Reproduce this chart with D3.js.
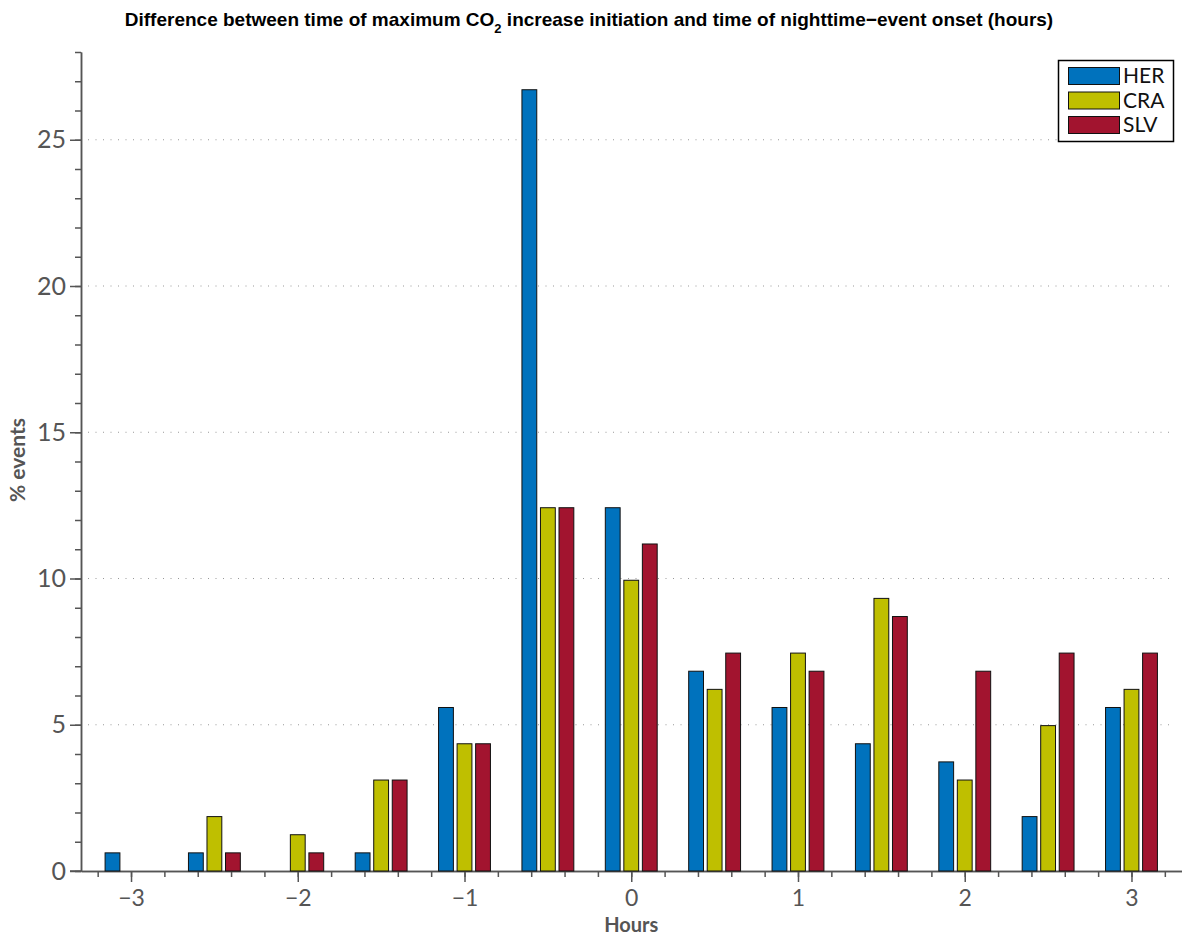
<!DOCTYPE html>
<html>
<head>
<meta charset="utf-8">
<script src="https://cdn.jsdelivr.net/npm/d3@7"></script>
<style>
  html, body { margin: 0; padding: 0; background: #fff; }
  svg { display: block; }
  .tick text { font-family: Lato, "Open Sans", sans-serif; fill: #555; }
</style>
</head>
<body>
<svg id="chart" width="1182" height="937"></svg>
<script>
// Time-offset bins (hours) and the share of events in each bin, per site
const bins = [-3, -2.5, -2, -1.5, -1, -0.5, 0, 0.5, 1, 1.5, 2, 2.5, 3];
const series = ["HER", "CRA", "SLV"];
const herValues = [0.62, 0.62, 0, 0.62, 5.59, 26.71, 12.42, 6.83, 5.59, 4.35, 3.73, 1.86, 5.59];
const craValues = [0, 1.86, 1.24, 3.11, 4.35, 12.42, 9.94, 6.21, 7.45, 9.32, 3.11, 4.97, 6.21];
const slvValues = [0, 0.62, 0.62, 3.11, 4.35, 12.42, 11.18, 7.45, 6.83, 8.70, 6.83, 7.45, 7.45];
const seriesColors = ["#0072BD", "#BFBF00", "#A2142F"];
const yMajorTicks = [0, 5, 10, 15, 20, 25];
const xMajorTicks = [-3, -2, -1, 0, 1, 2, 3];
const tickLabel = v => (v < 0 ? "\u2212" + Math.abs(v) : String(v));

const valuesBySeries = { HER: herValues, CRA: craValues, SLV: slvValues };

const svg = d3.select("#chart");
const margin = { left: 81, right: 0.5, top: 52, bottom: 66 };
const W = 1182, H = 937;

const x = d3.scaleLinear().domain([-3.3, 3.3]).range([margin.left, W - margin.right]);
const y = d3.scaleLinear().domain([0, 28]).range([H - margin.bottom, margin.top]);

// position of each series inside a bin, in hours
const inner = d3.scaleBand().domain(series).range([-1 / 6, 1 / 6]).paddingInner(0.2).paddingOuter(0.1);
const color = d3.scaleOrdinal().domain(series).range(seriesColors);

// dotted horizontal grid at the major y ticks
svg.append("g")
  .selectAll("line")
  .data(yMajorTicks.filter(d => d > 0))
  .join("line")
  .attr("x1", margin.left + 7).attr("x2", 1170)
  .attr("y1", d => y(d)).attr("y2", d => y(d))
  .attr("stroke", "#999").attr("stroke-width", 1)
  .attr("stroke-dasharray", "1,6.5");

// axes
const axisColor = "#555";
const yMinor = d3.axisLeft(y).tickValues(d3.range(0, 29, 1)).tickSize(6).tickFormat("").tickSizeOuter(0);
const yMajor = d3.axisLeft(y).tickValues(yMajorTicks).tickSize(11).tickPadding(4).tickFormat(tickLabel).tickSizeOuter(0);
const xMinor = d3.axisBottom(x).tickValues(d3.range(-16, 17).map(k => k * 0.2)).tickSize(6).tickFormat("").tickSizeOuter(0);
const xMajor = d3.axisBottom(x).tickValues(xMajorTicks).tickSize(11).tickPadding(8).tickFormat(tickLabel).tickSizeOuter(0);

function styleAxis(g) {
  g.selectAll("path, line").attr("stroke", axisColor).attr("stroke-width", 1.5);
}
svg.append("g").attr("transform", `translate(${margin.left},0)`).call(yMinor).call(styleAxis);
svg.append("g").attr("transform", `translate(${margin.left},0)`).call(yMajor).call(styleAxis)
  .selectAll("text").attr("font-size", 25).attr("fill", "#555");
svg.append("g").attr("transform", `translate(0,${y(0)})`).call(xMinor).call(styleAxis);
svg.append("g").attr("transform", `translate(0,${y(0)})`).call(xMajor).call(styleAxis)
  .selectAll("text").attr("font-size", 23).attr("fill", "#555");
// baseline extends left of the y axis
svg.append("line").attr("x1", 70).attr("x2", margin.left).attr("y1", y(0)).attr("y2", y(0))
  .attr("stroke", axisColor).attr("stroke-width", 1.5);

// bars, drawn over the baseline so empty bins show as a dark line
const rows = [];
series.forEach(s => bins.forEach((b, i) => rows.push({ s, b, v: valuesBySeries[s][i] })));
svg.append("g")
  .selectAll("rect")
  .data(rows)
  .join("rect")
  .attr("x", d => x(d.b + inner(d.s)))
  .attr("width", d => x(d.b + inner(d.s) + inner.bandwidth()) - x(d.b + inner(d.s)))
  .attr("y", d => y(d.v))
  .attr("height", d => y(0) - y(d.v))
  .attr("fill", d => color(d.s))
  .attr("stroke", "#111").attr("stroke-width", 1);

// axis titles
svg.append("text")
  .attr("x", x(0)).attr("y", 932)
  .attr("text-anchor", "middle")
  .attr("font-family", "Lato, sans-serif").attr("font-weight", "bold").attr("font-size", 20)
  .attr("fill", "#555").text("Hours");
svg.append("text")
  .attr("transform", "translate(25,460) rotate(-90)")
  .attr("text-anchor", "middle")
  .attr("font-family", "Lato, sans-serif").attr("font-weight", "bold").attr("font-size", 21)
  .attr("fill", "#555").text("% events");

// chart title with subscript
const title = svg.append("text")
  .attr("x", 589).attr("y", 26)
  .attr("text-anchor", "middle")
  .attr("font-family", "'Liberation Sans', Arial, sans-serif").attr("font-weight", "bold").attr("font-size", 19)
  .attr("fill", "#000");
title.append("tspan").text("Difference between time of maximum CO");
title.append("tspan").attr("font-size", 13).attr("dy", 7).text("2");
title.append("tspan").attr("dy", -7).text(" increase initiation and time of nighttime\u2212event onset (hours)");

// legend
const legend = svg.append("g");
legend.append("rect")
  .attr("x", 1058.5).attr("y", 60.5).attr("width", 115).attr("height", 81)
  .attr("fill", "#fff").attr("stroke", "#000").attr("stroke-width", 1.5);
const item = legend.selectAll("g.item").data(series).join("g").attr("class", "item")
  .attr("transform", (d, i) => `translate(0,${i * 24.5})`);
item.append("rect")
  .attr("x", 1068.5).attr("y", 67.5).attr("width", 51).attr("height", 17)
  .attr("fill", d => color(d)).attr("stroke", "#111").attr("stroke-width", 1);
item.append("text")
  .attr("x", 1123).attr("y", 83)
  .attr("font-family", "Lato, sans-serif").attr("font-size", 21)
  .attr("fill", "#111").text(d => d);
</script>
</body>
</html>
